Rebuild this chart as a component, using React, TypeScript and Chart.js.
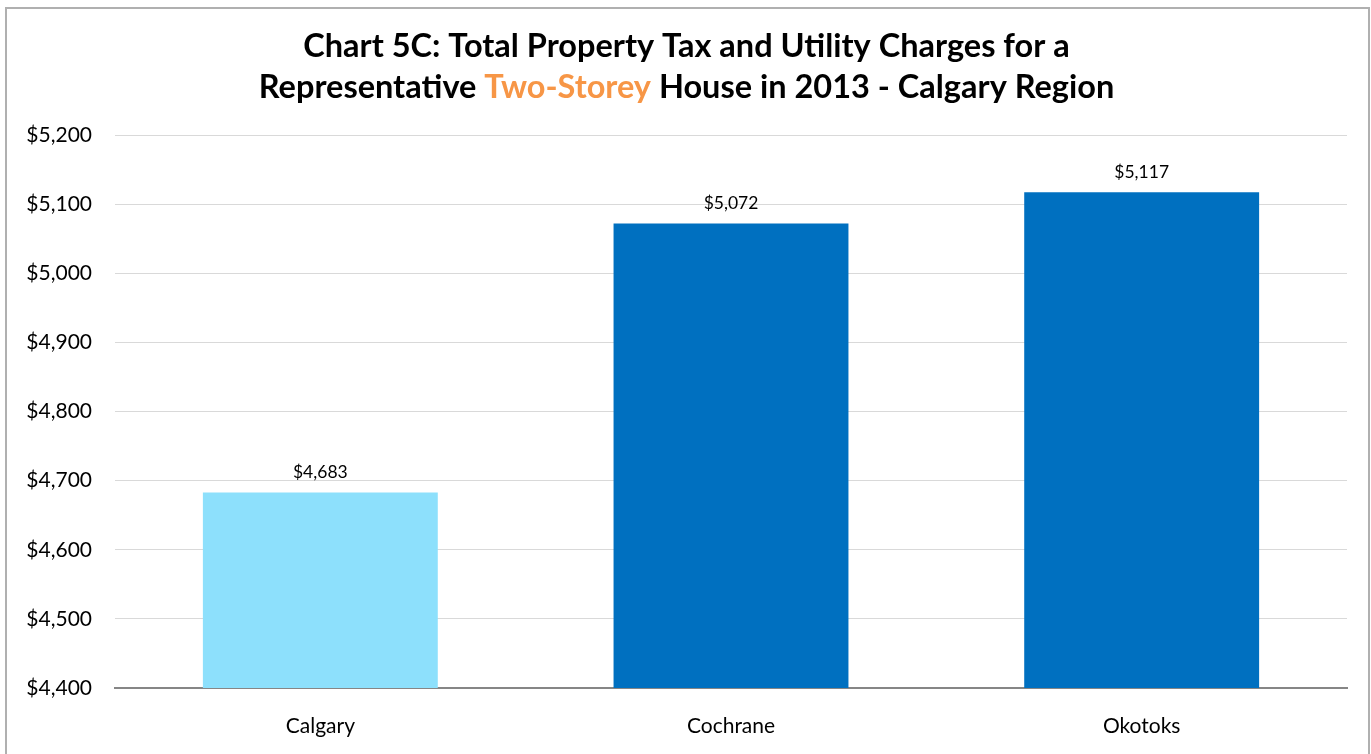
import React, { useEffect, useRef } from "react";
import { Chart, registerables } from "chart.js";

Chart.register(...registerables);

const categories = ["Calgary", "Cochrane", "Okotoks"];
const values = [4683, 5072, 5117];
const barColors = ["#8DE0FC", "#0070C0", "#0070C0"];
const yMin = 4400;
const yMax = 5200;
const yStep = 100;
const titleLine1 = [{ text: "Chart 5C: Total Property Tax and Utility Charges for a", color: "#000000" }];
const titleLine2 = [
  { text: "Representative ", color: "#000000" },
  { text: "Two-Storey", color: "#F79646" },
  { text: " House in 2013 - Calgary Region", color: "#000000" },
];

const FONT = "Lato, 'Open Sans', sans-serif";

const fmt = (v: number) => "$" + v.toLocaleString("en-US");

const titlePlugin = {
  id: "richTitle",
  afterDraw(chart: any) {
    const ctx = chart.ctx;
    ctx.save();
    ctx.font = `bold 32.5px ${FONT}`;
    ctx.textBaseline = "middle";
    ctx.textAlign = "left";
    const lines = [
      { segs: titleLine1, y: 47 },
      { segs: titleLine2, y: 88 },
    ];
    for (const line of lines) {
      const total = line.segs.reduce((s, g) => s + ctx.measureText(g.text).width, 0);
      let x = chart.width / 2 + 1 - total / 2;
      for (const g of line.segs) {
        ctx.fillStyle = g.color;
        ctx.fillText(g.text, x, line.y);
        x += ctx.measureText(g.text).width;
      }
    }
    ctx.restore();
  },
};

const labelPlugin = {
  id: "barLabels",
  afterDatasetsDraw(chart: any) {
    const ctx = chart.ctx;
    const meta = chart.getDatasetMeta(0);
    ctx.save();
    ctx.font = `17.5px ${FONT}`;
    ctx.fillStyle = "#000000";
    ctx.textAlign = "center";
    ctx.textBaseline = "middle";
    meta.data.forEach((bar: any, i: number) => {
      ctx.fillText(fmt(values[i]), bar.x, bar.y - 20);
    });
    ctx.restore();
  },
};

export default function App() {
  const ref = useRef<HTMLCanvasElement>(null);
  useEffect(() => {
    document.body.style.margin = "0";
    document.body.style.overflow = "hidden";
    const chart = new Chart(ref.current!, {
      type: "bar",
      data: {
        labels: categories,
        datasets: [
          {
            data: values,
            backgroundColor: barColors,
            borderWidth: 0,
            categoryPercentage: 1,
            barPercentage: 0.572,
          },
        ],
      },
      options: {
        responsive: false,
        animation: false,
        devicePixelRatio: 1,
        layout: { padding: { top: 135, right: 24, bottom: 0, left: 0 } },
        plugins: {
          legend: { display: false },
          title: { display: false },
          tooltip: { enabled: false },
        },
        scales: {
          x: {
            grid: { display: false },
            border: { display: true, color: "#868686", width: 2 },
            ticks: { color: "#000000", font: { family: FONT, size: 21 }, padding: 18 },
            afterFit: (s: any) => {
              s.height = 66;
            },
          },
          y: {
            min: yMin,
            max: yMax,
            grid: { color: "#D9D9D9", lineWidth: 1, drawTicks: false },
            border: { display: false },
            ticks: {
              stepSize: yStep,
              color: "#000000",
              font: { family: FONT, size: 21 },
              padding: 23,
              callback: (v: any) => fmt(Number(v)),
            },
            afterFit: (s: any) => {
              s.width = 115;
            },
          },
        },
      },
      plugins: [titlePlugin, labelPlugin],
    });
    return () => chart.destroy();
  }, []);
  return (
    <div style={{ position: "relative", width: 1371, height: 754, overflow: "hidden", background: "#fff" }}>
      <canvas ref={ref} width={1371} height={754} style={{ position: "absolute", left: 0, top: 0 }} />
      <div
        style={{
          position: "absolute",
          left: 5,
          top: 7,
          width: 1361,
          height: 780,
          border: "2px solid #B0B0B0",
          pointerEvents: "none",
        }}
      />
    </div>
  );
}
